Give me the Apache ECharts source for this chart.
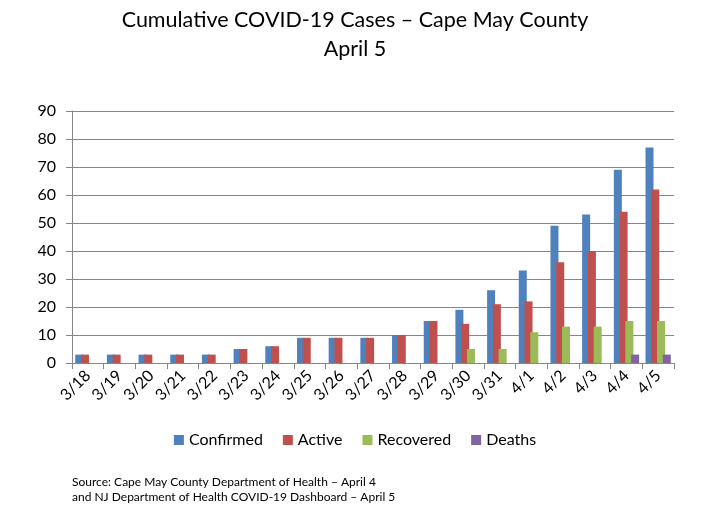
<!DOCTYPE html>
<html>
<head>
<meta charset="utf-8">
<script src="https://cdn.jsdelivr.net/npm/echarts@6/dist/echarts.min.js"></script>
<style>
html,body{margin:0;padding:0;background:#fff;}
#chart{width:710px;height:510px;}
</style>
</head>
<body>
<div id="chart"></div>
<script>
var categories = ['3/18','3/19','3/20','3/21','3/22','3/23','3/24','3/25','3/26','3/27','3/28','3/29','3/30','3/31','4/1','4/2','4/3','4/4','4/5'];
var confirmed = [3,3,3,3,3,5,6,9,9,9,10,15,19,26,33,49,53,69,77];
var active    = [3,3,3,3,3,5,6,9,9,9,10,15,14,21,22,36,40,54,62];
var recovered = [0,0,0,0,0,0,0,0,0,0,0,0,5,5,11,13,13,15,15];
var deaths    = [0,0,0,0,0,0,0,0,0,0,0,0,0,0,0,0,0,3,3];
var seriesNames = ['Confirmed','Active','Recovered','Deaths'];
var colors = ['#4F81BD','#C0504D','#9BBB59','#8064A2'];
var titleLines = ['Cumulative COVID-19 Cases \u2013 Cape May County','April 5'];
var sourceLines = ['Source: Cape May County Department of Health \u2013 April 4','and NJ Department of Health COVID-19 Dashboard \u2013 April 5'];

var font = 'Lato, "Open Sans", sans-serif';
var chart = echarts.init(document.getElementById('chart'));
var dataSets = [confirmed, active, recovered, deaths];
var series = dataSets.map(function(d, i){
  return {
    name: seriesNames[i],
    type: 'bar',
    data: d,
    barWidth: 8,
    barGap: '-28%',
    itemStyle: {color: colors[i]},
    emphasis: {disabled: true}
  };
});
chart.setOption({
  animation: false,
  color: colors,
  title: [{
    text: titleLines.join('\n'),
    left: 'center',
    top: 1,
    textStyle: {fontFamily: font, fontSize: 21.5, fontWeight: 'normal', color: '#000', lineHeight: 29}
  }],
  graphic: sourceLines.map(function(t, i){
    return {type:'text', left: 72, top: 476 + i*15, style:{text: t, fontFamily: font, fontSize: 12, fill:'#000'}};
  }),
  legend: {
    data: seriesNames,
    top: 427,
    left: 'center',
    icon: 'rect',
    itemWidth: 10,
    itemHeight: 10,
    itemGap: 20,
    textStyle: {fontFamily: font, fontSize: 16, color: '#000'}
  },
  grid: {left: 72, right: 36, top: 111, height: 252, containLabel: false},
  xAxis: {
    type: 'category',
    data: categories,
    axisLine: {lineStyle: {color: '#868686', width: 1}},
    axisTick: {show: true, length: 6, lineStyle: {color: '#868686'}},
    axisLabel: {rotate: 45, fontFamily: font, fontSize: 16, color: '#000', margin: 10, interval: 0}
  },
  yAxis: {
    type: 'value',
    min: 0, max: 90, interval: 10,
    axisLine: {show: true, lineStyle: {color: '#868686', width: 1}},
    axisTick: {show: true, length: 6, lineStyle: {color: '#868686'}},
    splitLine: {lineStyle: {color: '#868686', width: 1}},
    axisLabel: {fontFamily: font, fontSize: 16, color: '#000', margin: 16}
  },
  series: series
});
</script>
</body>
</html>
